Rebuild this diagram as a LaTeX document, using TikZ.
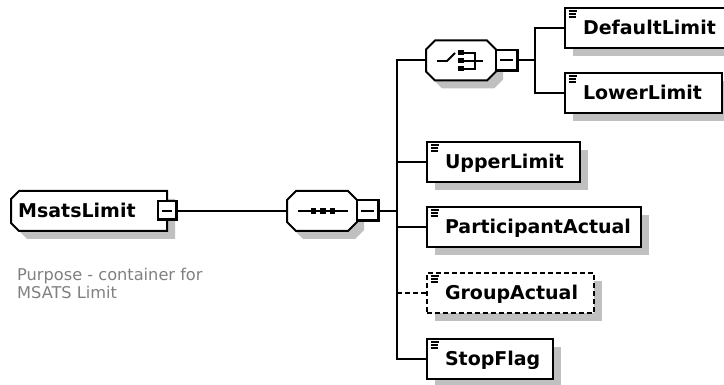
\documentclass[tikz,border=0pt]{standalone}
\usepackage{fontspec}
\setmainfont{DejaVu Sans}
\usetikzlibrary{shadows}
\definecolor{shadowc}{RGB}{192,192,192}
\definecolor{notec}{RGB}{128,128,128}
\begin{document}
\begin{tikzpicture}[x=1pt,y=-1pt,
  elem/.style={draw=black, line width=2pt, fill=white, rectangle,
    inner xsep=0pt, inner ysep=0pt, outer sep=0pt, minimum height=40pt,
    text height=14pt, text depth=0pt, align=left, anchor=west,
    font=\fontsize{19}{19}\selectfont\bfseries,
    drop shadow={shadow xshift=8pt, shadow yshift=-8pt, fill=shadowc, opacity=1}},
  comp/.style={rectangle, draw=none, inner sep=0pt, outer sep=0pt,
    minimum width=70pt, minimum height=40pt},
  togglebox/.style={rectangle, draw=black, line width=2pt, fill=white,
    minimum width=22pt, minimum height=21pt, inner sep=0pt, outer sep=0pt,
    path picture={
      \draw[line width=4pt] (path picture bounding box.north east) --
        (path picture bounding box.south east) -- (path picture bounding box.south west);
      \draw[line width=2pt] ([xshift=4pt]path picture bounding box.west) --
        ([xshift=-5pt]path picture bounding box.east);}},
  conn/.style={line width=2pt, draw=black},
  iconline/.style={line width=1.5pt, draw=black},
  outline/.style={draw=black, line width=2pt, fill=white},
  shadowfill/.style={fill=shadowc},
  optdash/.style={dash pattern=on 5pt off 3pt},
  notetext/.style={font=\fontsize{16.2}{18}\selectfont, text=notec, anchor=base west, inner sep=0pt},
  titletext/.style={font=\fontsize{19}{19}\selectfont\bfseries, anchor=west, inner sep=0pt,
    text height=14pt, text depth=0pt}
]
\useasboundingbox (0,0) rectangle (724,385);

% ---- root element MsatsLimit ----
\fill[shadowfill, xshift=8pt, yshift=-8pt] (19,191) -- (167,191) -- (167,231) -- (19,231) -- (11,223) -- (11,199) -- cycle;
\path[outline] (19,191) -- (167,191) -- (167,231) -- (19,231) -- (11,223) -- (11,199) -- cycle;
\node[titletext] (msats) at (18,211) {MsatsLimit};
\node[togglebox, minimum width=19pt, minimum height=19pt] (msatsm) at (167,211) {};

\node[notetext] (purp1) at (17,280) {Purpose - container for};
\node[notetext] (purp2) at (17,298.5) {MSATS Limit};

% ---- sequence compositor ----
\node[comp] (seq) at (322,211) {};
\fill[shadowfill, xshift=7pt, yshift=-8pt] (296,191)--(348,191)--(357,200)--(357,222)--(348,231)--(296,231)--(287,222)--(287,200)--cycle;
\path[outline] (296,191)--(348,191)--(357,200)--(357,222)--(348,231)--(296,231)--(287,222)--(287,200)--cycle;
\draw[line width=2pt] (298,211) -- (348,211);
\fill (310.5,208) rectangle (316,214);
\fill (320,208) rectangle (325.5,214);
\fill (329.5,208) rectangle (335,214);
\node[togglebox] (seqm) at (368,211) {};

% ---- choice compositor ----
\node[comp] (choice) at (461,60.5) {};
\fill[shadowfill, xshift=7pt, yshift=-8pt] (435,40.5)--(487,40.5)--(496,49.5)--(496,71.5)--(487,80.5)--(435,80.5)--(426,71.5)--(426,49.5)--cycle;
\path[outline] (435,40.5)--(487,40.5)--(496,49.5)--(496,71.5)--(487,80.5)--(435,80.5)--(426,71.5)--(426,49.5)--cycle;
\draw[line width=1.8pt] (437,61) -- (447,61) -- (455,53);
\fill (458,50.5) rectangle (463.5,55.5);
\fill (458,58.5) rectangle (463.5,63.5);
\fill (458,66.5) rectangle (463.5,71.5);
\draw[line width=1.8pt] (463,53) -- (475,53) -- (475,69) -- (463,69);
\draw[line width=1.8pt] (463,61) -- (483,61);
\node[togglebox] (choicem) at (507,60.5) {};

% ---- child elements ----
\node[elem, text width=168pt] (def) at (565,28) {\hspace*{18pt}DefaultLimit};
\node[elem, text width=157pt] (low) at (565,93) {\hspace*{18pt}LowerLimit};
\node[elem, text width=153pt] (upper) at (427,162) {\hspace*{18pt}UpperLimit};
\node[elem, text width=214pt] (part) at (427,227) {\hspace*{18pt}ParticipantActual};
\node[elem, text width=167pt, optdash] (group) at (427,293) {\hspace*{18pt}GroupActual};
\node[elem, text width=126pt] (stop) at (427,359) {\hspace*{18pt}StopFlag};

\foreach \n in {def,low,upper,part,group,stop}{
  \draw[iconline] ([shift={(3.5,2.8)}]\n.north west) -- ++(8,0);
  \draw[iconline] ([shift={(3.5,5.8)}]\n.north west) -- ++(7,0);
  \draw[iconline] ([shift={(3.5,8.8)}]\n.north west) -- ++(7,0);
}

% ---- connectors ----
\coordinate (b1) at (397,211);
\coordinate (b2) at (535,60.5);
\draw[conn] (msatsm.east) -- (seq.west);
\draw[conn] (seqm.east) -- (b1);
\draw[conn] (choice.west) -- (choice.west -| b1) -- (stop.west -| b1) -- (stop.west);
\draw[conn] (upper.west -| b1) -- (upper.west);
\draw[conn] (part.west -| b1) -- (part.west);
\draw[conn, optdash] (group.west -| b1) -- (group.west);
\draw[conn] (choicem.east) -- (b2);
\draw[conn] (def.west) -- (def.west -| b2) -- (low.west -| b2) -- (low.west);
\end{tikzpicture}
\end{document}
